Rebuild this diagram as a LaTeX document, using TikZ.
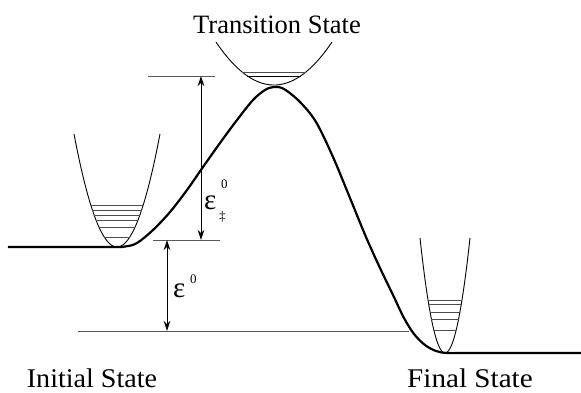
\documentclass[tikz,border=0pt]{standalone}
\usepackage{fontspec}
\setmainfont{Liberation Serif}
\usetikzlibrary{arrows.meta}
\begin{document}
\begin{tikzpicture}[x=1pt,y=-1pt,
  curve/.style={line width=2.2pt,line join=round},
  thinline/.style={line width=0.9pt},
  refline/.style={line width=0.9pt,draw=black!65},
  level/.style={line width=0.9pt,draw=black!70},
  dimarrow/.style={line width=0.9pt,{Stealth[length=10pt,width=6.5pt]}-{Stealth[length=10pt,width=6.5pt]}},
  lbl/.style={font=\fontsize{27}{30}\selectfont,anchor=base,inner sep=0pt}]
\useasboundingbox (0,0) rectangle (581,392);
% energy profile
\draw[curve] plot[smooth,tension=0.55] coordinates {(8,247) (110,247) (125,246.5) (137,243) (153,230) (170,212) (187,190) (203,167) (220,143) (237,120) (253,100) (265,90) (274,87) (284,89) (300,102) (316,122) (333,157) (350,198) (366,237) (380,268) (393,295) (404,318) (414,334) (425,345) (436,351) (447,353) (470,353) (581,353)};
% initial-state well
\draw[thinline] plot[domain=-43:43,samples=61] ({117+\x},{247-113*(\x/43)^2});
\foreach \ly in {205,210,215,220,227,237}
  \draw[level] ({117-43*sqrt((247-\ly)/113)},\ly) -- ({117+43*sqrt((247-\ly)/113)},\ly);
% transition-state well
\draw[thinline] plot[domain=-58:58,samples=61] ({274+\x},{85-43*(\x/58)^2});
\draw[level] ({274-58*sqrt(13/43)},72) -- ({274+58*sqrt(13/43)},72);
\draw[thinline] ({274-58*sqrt(9/43)},76) -- ({274+58*sqrt(9/43)},76);
% final-state well
\draw[thinline] plot[domain=-25:25,samples=61] ({445+\x},{353-115*(\x/25)^2});
\foreach \ly in {300,304,312,319,330}
  \draw[level] ({445-25*sqrt((353-\ly)/115)},\ly) -- ({445+25*sqrt((353-\ly)/115)},\ly);
% reference lines
\coordinate (t1) at (148,76);  \coordinate (t2) at (215,76);
\coordinate (m1) at (153,240); \coordinate (m2) at (220,240);
\coordinate (b1) at (78,331);  \coordinate (b2) at (409,331);
\draw[refline] (t1) -- (t2);
\draw[refline] (m1) -- (m2);
\draw[refline] (b1) -- (b2);
% energy arrows
\coordinate (a1) at (201,76);  \coordinate (a2) at (201,240);
\coordinate (c1) at (167,240); \coordinate (c2) at (167,331);
\draw[dimarrow] (a1) -- (a2);
\draw[dimarrow] (c1) -- (c2);
% labels
\node[inner sep=0pt,anchor=base west] (e1) at (204,209) {\fontsize{29}{30}\selectfont ε};
\node[inner sep=0pt,anchor=base west] (e1s) at (221,188) {\fontsize{13}{14}\selectfont 0};
\node[inner sep=0pt,anchor=base west] (e1d) at (219,220) {\fontsize{13}{14}\selectfont ‡};
\node[inner sep=0pt,anchor=base west] (e0) at (173,297) {\fontsize{29}{30}\selectfont ε};
\node[inner sep=0pt,anchor=base west] (e0s) at (190,283) {\fontsize{13}{14}\selectfont 0};
\node[lbl,anchor=base west,font=\fontsize{26.5}{30}\selectfont] (ts) at (193,33) {Transition State};
\node[lbl] (is) at (92,387) {\scalebox{1.04}[1]{Initial State}};
\node[lbl] (fs) at (470,387) {\scalebox{1.08}[1]{Final State}};
\end{tikzpicture}
\end{document}
